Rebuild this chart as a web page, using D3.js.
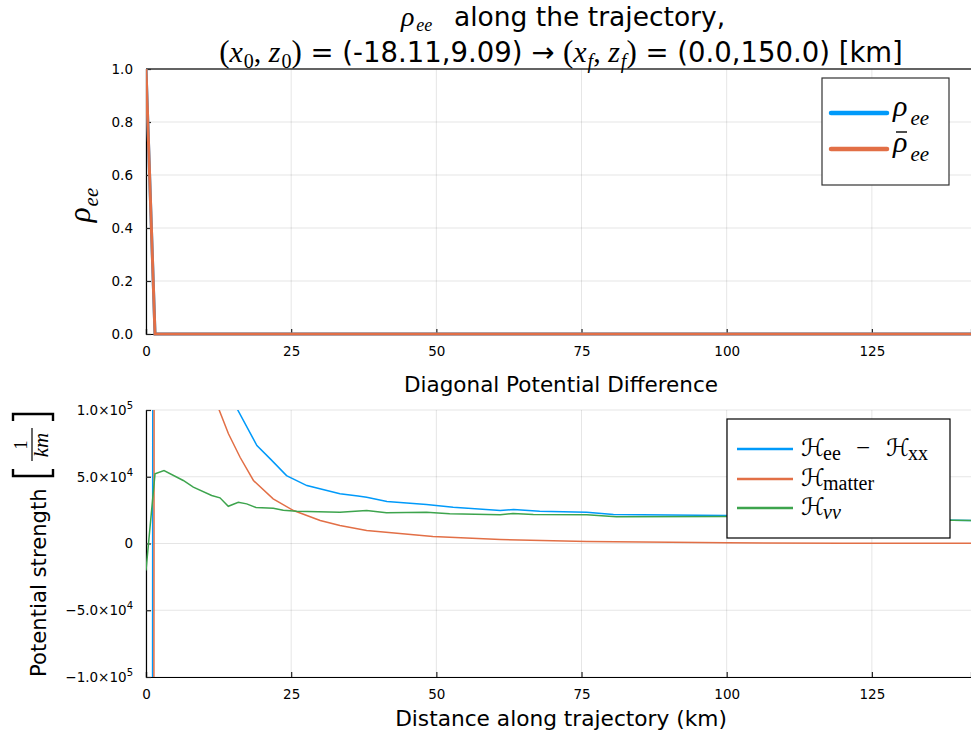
<!DOCTYPE html>
<html><head><meta charset="utf-8">
<script src="https://cdn.jsdelivr.net/npm/d3@7"></script>
<style>body{margin:0;background:#fff}svg{display:block}</style>
</head><body>
<svg id="chart" width="971" height="737"></svg>
<script>
// ---------------- data ----------------
const distMax = 142.07;
const xTicks = [0, 25, 50, 75, 100, 125];
const topYTicks = [0, 0.2, 0.4, 0.6, 0.8, 1.0];
const botYTicks = [-1e5, -5e4, 0, 5e4, 1e5];

const rhoX = [0, 1.55, 50, 100, 142.07];
const rhoEE = [1.0, 0.0, 0.0, 0.0, 0.0];
const rhoBarEE = [1.0, 0.0, 0.0, 0.0, 0.0];

const hDiffX = [0, 1.55, 3.1, 6.4, 9.5, 12.6, 15.8, 19.1, 21.4, 24.2, 27.7, 33.4, 36.5, 38.0, 41.5, 48.3, 52.9, 61.0, 63.3, 67.8, 75.9, 80.5, 100, 110, 120, 130, 142.07];
const hDiffY = [-7.4e6, 2.6e6, 9e5, 4e5, 2.2e5, 1.45e5, 1.0e5, 7.34e4, 6.34e4, 5.09e4, 4.34e4, 3.72e4, 3.55e4, 3.47e4, 3.15e4, 2.92e4, 2.72e4, 2.47e4, 2.55e4, 2.42e4, 2.34e4, 2.17e4, 2.10e4, 2.0e4, 1.9e4, 1.8e4, 1.72e4];

const hMatterX = [0, 1.55, 3.1, 6.4, 9.5, 12.6, 14.2, 16.2, 18.5, 21.9, 25.4, 30, 33.4, 38, 49.4, 61, 75.9, 100, 120, 142.07];
const hMatterY = [-8.9e6, 1.1e6, 7e5, 3e5, 1.6e5, 1.0e5, 8.22e4, 6.46e4, 4.72e4, 3.35e4, 2.47e4, 1.72e4, 1.35e4, 9.7e3, 5.2e3, 3.0e3, 1.5e3, 5e2, 2e2, 1e2];

const hNuX = [0, 1.55, 3.1, 6.42, 8.15, 11.31, 12.74, 14.17, 15.9, 17.34, 18.94, 21.92, 23.64, 25.95, 33.4, 38.0, 41.4, 48.3, 52.3, 61, 63.2, 66.7, 75.9, 81, 100, 120, 142.07];
const hNuY = [-2.02e4, 5.22e4, 5.47e4, 4.72e4, 4.22e4, 3.60e4, 3.42e4, 2.79e4, 3.09e4, 2.97e4, 2.70e4, 2.64e4, 2.49e4, 2.42e4, 2.34e4, 2.47e4, 2.30e4, 2.34e4, 2.22e4, 2.15e4, 2.25e4, 2.17e4, 2.15e4, 2.0e4, 2.02e4, 1.85e4, 1.72e4];

const C_BLUE = "#009AFA", C_ORANGE = "#E26F46", C_GREEN = "#3DA44D";
const SANS = "DejaVu Sans, sans-serif";
const SERIF = "Liberation Serif, DejaVu Serif, serif";
const CAL = "DejaVu Sans, sans-serif";

// ---------------- setup ----------------
const svg = d3.select("#chart");
const L = 146, R = 971;
const x = d3.scaleLinear([0, distMax], [L, R]);
const yTop = d3.scaleLinear([0, 1], [334, 69]);
const yBot = d3.scaleLinear([-1e5, 1e5], [677, 410]);
const zip = (a, b) => a.map((v, i) => [v, b[i]]);

const defs = svg.append("defs");
defs.append("clipPath").attr("id", "clipTop").append("rect").attr("x", L).attr("y", 66).attr("width", R - L).attr("height", 270);
defs.append("clipPath").attr("id", "clipBot").append("rect").attr("x", L).attr("y", 410).attr("width", R - L).attr("height", 267);

function panel(y, yTicks, fmt) {
  const g = svg.append("g");
  const [y0, y1] = y.range();
  g.selectAll(".vg").data(xTicks).join("line")
    .attr("x1", d => x(d)).attr("x2", d => x(d)).attr("y1", y1).attr("y2", y0)
    .attr("stroke", "#000").attr("stroke-opacity", 0.1).attr("stroke-width", 1);
  g.selectAll(".hg").data(yTicks).join("line")
    .attr("x1", L).attr("x2", R).attr("y1", d => y(d)).attr("y2", d => y(d))
    .attr("stroke", "#000").attr("stroke-opacity", 0.1).attr("stroke-width", 1);
  const xa = d3.axisBottom(x).tickValues(xTicks).tickSize(-5).tickPadding(12).tickFormat(d3.format("d"));
  const ax = svg.append("g").attr("transform", `translate(0,${y0})`).call(xa);
  ax.select(".domain").attr("stroke", "#000").attr("stroke-width", 1.2);
  ax.selectAll(".tick line").attr("stroke", "#222").attr("stroke-width", 1.2);
  ax.selectAll("text").attr("font-family", SANS).attr("font-size", 13.5).attr("fill", "#000");
  const ya = d3.axisLeft(y).tickValues(yTicks).tickSize(-5).tickPadding(13).tickFormat(fmt);
  const ay = svg.append("g").attr("transform", `translate(${L},0)`).call(ya);
  ay.select(".domain").attr("stroke", "#000").attr("stroke-width", 1.2);
  ay.selectAll(".tick line").attr("stroke", "#222").attr("stroke-width", 1.2);
  ay.selectAll("text").attr("font-family", SANS).attr("font-size", 13.5).attr("fill", "#000");
  return ay;
}

// ---------------- top panel ----------------
panel(yTop, topYTicks, d3.format(".1f"));
svg.append("line").attr("x1", L).attr("x2", R).attr("y1", 69).attr("y2", 69).attr("stroke", "#333").attr("stroke-width", 1.5);

const lineTop = d3.line().x(d => x(d[0])).y(d => yTop(d[1]));
const gt = svg.append("g").attr("clip-path", "url(#clipTop)");
gt.append("path").attr("d", lineTop(zip(rhoX, rhoEE))).attr("fill", "none").attr("stroke", C_BLUE).attr("stroke-width", 3);
gt.append("path").attr("d", lineTop(zip(rhoX, rhoBarEE))).attr("fill", "none").attr("stroke", C_ORANGE).attr("stroke-width", 3);

// ---------------- bottom panel ----------------
const ayB = panel(yBot, botYTicks, d => "");
ayB.selectAll(".tick text").each(function(d) {
  const t = d3.select(this);
  if (d === 0) { t.text("0"); return; }
  const e = Math.floor(Math.log10(Math.abs(d)));
  const m = d / Math.pow(10, e);
  t.text((m < 0 ? "\u2212" : "") + Math.abs(m).toFixed(1) + "\u00d710");
  t.append("tspan").attr("dy", -6).attr("font-size", 10).text(e);
});

const lineBot = d3.line().x(d => x(d[0])).y(d => yBot(d[1]));
const gb = svg.append("g").attr("clip-path", "url(#clipBot)");
gb.append("path").attr("d", lineBot(zip(hDiffX, hDiffY))).attr("fill", "none").attr("stroke", C_BLUE).attr("stroke-width", 1.5);
gb.append("path").attr("d", lineBot(zip(hMatterX, hMatterY))).attr("fill", "none").attr("stroke", C_ORANGE).attr("stroke-width", 1.5);
gb.append("path").attr("d", lineBot(zip(hNuX, hNuY))).attr("fill", "none").attr("stroke", C_GREEN).attr("stroke-width", 1.5);

// ---------------- titles ----------------
const t1 = svg.append("text").attr("x", 563).attr("y", 26).attr("text-anchor", "middle").attr("font-family", SANS).attr("font-size", 26.5);
t1.append("tspan").attr("font-family", SERIF).attr("font-style", "italic").attr("font-size", 28).text("ρ");
t1.append("tspan").attr("font-family", SERIF).attr("font-style", "italic").attr("font-size", 18).attr("dx", 2).attr("dy", 5).text("ee");
t1.append("tspan").attr("dy", -5).text("\u2002 along the trajectory,");

const t2 = svg.append("text").attr("x", 561).attr("y", 62).attr("text-anchor", "middle").attr("font-family", SANS).attr("font-size", 27.5);
function mathPair(t, a, b, sub) {
  const st = sub === "0" ? "normal" : "italic";
  t.append("tspan").attr("font-family", SERIF).attr("font-size", 31).text("(");
  t.append("tspan").attr("font-family", SERIF).attr("font-style", "italic").attr("font-size", 30).text(a);
  t.append("tspan").attr("font-family", SERIF).attr("font-style", st).attr("font-size", 20).attr("dx", 1).attr("dy", 6).text(sub);
  t.append("tspan").attr("font-family", SERIF).attr("font-size", 30).attr("dy", -6).text(", ");
  t.append("tspan").attr("font-family", SERIF).attr("font-style", "italic").attr("font-size", 30).text(b);
  t.append("tspan").attr("font-family", SERIF).attr("font-style", st).attr("font-size", 20).attr("dx", 1).attr("dy", 6).text(sub);
  t.append("tspan").attr("font-family", SERIF).attr("font-size", 31).attr("dy", -6).text(")");
}
mathPair(t2, "x", "z", "0");
t2.append("tspan").text(" = (-18.11,9.09) \u2192 ");
mathPair(t2, "x", "z", "f");
t2.append("tspan").text(" = (0.0,150.0) [km]");

// top y label
const yl = svg.append("text").attr("transform", "translate(90,205) rotate(-90)").attr("text-anchor", "middle").attr("font-family", SERIF).attr("font-style", "italic");
yl.append("tspan").attr("font-size", 31).text("ρ");
yl.append("tspan").attr("font-size", 21).attr("dx", 1).attr("dy", 8).text("ee");

// bottom panel title
svg.append("text").attr("x", 561).attr("y", 392).attr("text-anchor", "middle").attr("font-family", SANS).attr("font-size", 21.5).text("Diagonal Potential Difference");

// x label
svg.append("text").attr("x", 561).attr("y", 726).attr("text-anchor", "middle").attr("font-family", SANS).attr("font-size", 21.7).text("Distance along trajectory (km)");

// bottom y label
const gy = svg.append("g").attr("transform", "translate(46,677) rotate(-90)");
gy.append("text").attr("x", 0).attr("y", 0).attr("font-family", SANS).attr("font-size", 21.2).text("Potential strength");
gy.append("path").attr("d", "M208,-33 L201,-33 L201,7 L208,7").attr("fill", "none").attr("stroke", "#000").attr("stroke-width", 2.4);
gy.append("path").attr("d", "M256,-33 L263,-33 L263,7 L256,7").attr("fill", "none").attr("stroke", "#000").attr("stroke-width", 2.4);
gy.append("text").attr("x", 232).attr("y", -19).attr("text-anchor", "middle").attr("font-family", SERIF).attr("font-size", 18).text("1");
gy.append("line").attr("x1", 216).attr("x2", 249).attr("y1", -14).attr("y2", -14).attr("stroke", "#000").attr("stroke-width", 1.2);
gy.append("text").attr("x", 232).attr("y", 2).attr("text-anchor", "middle").attr("font-family", SERIF).attr("font-style", "italic").attr("font-size", 21).text("km");

// ---------------- legends ----------------
const lg1 = svg.append("g");
lg1.append("rect").attr("x", 822).attr("y", 78).attr("width", 127).attr("height", 107).attr("fill", "#fff").attr("stroke", "#333").attr("stroke-width", 1.2);
[[C_BLUE, 113, false], [C_ORANGE, 149, true]].forEach(([c, yy, bar]) => {
  lg1.append("line").attr("x1", 831).attr("x2", 887).attr("y1", yy).attr("y2", yy).attr("stroke", c).attr("stroke-width", 4.5).attr("stroke-linecap", "round");
  const t = lg1.append("text").attr("x", 893).attr("y", yy + 3).attr("font-family", SERIF).attr("font-style", "italic");
  t.append("tspan").attr("font-size", 30).text("ρ");
  t.append("tspan").attr("font-size", 21).attr("dx", 3).attr("dy", 9).text("ee");
  if (bar) lg1.append("line").attr("x1", 896).attr("x2", 907).attr("y1", yy - 17).attr("y2", yy - 17).attr("stroke", "#000").attr("stroke-width", 1.4);
});

const lg2 = svg.append("g");
lg2.append("rect").attr("x", 727).attr("y", 419).attr("width", 223).attr("height", 119).attr("fill", "#fff").attr("stroke", "#000").attr("stroke-width", 1.2);
// [text, kind, x]: kind 0 = calligraphic H, 1 = upright subscript, 2 = operator, 3 = italic subscript
const legRows = [
  [C_BLUE, 449, [["ℋ", 0, 801], ["ee", 1, 823], ["\u2212", 2, 856], ["ℋ", 0, 886], ["xx", 1, 908]]],
  [C_ORANGE, 479, [["ℋ", 0, 801], ["matter", 1, 823]]],
  [C_GREEN, 508, [["ℋ", 0, 801], ["νν", 3, 823]]]
];
legRows.forEach(([c, yy, parts]) => {
  lg2.append("line").attr("x1", 737).attr("x2", 793).attr("y1", yy).attr("y2", yy).attr("stroke", c).attr("stroke-width", 2.5);
  parts.forEach(([s, k, px]) => {
    const t = lg2.append("text").attr("x", px).attr("font-family", SERIF).text(s);
    if (k === 0) t.attr("y", yy + 7).attr("font-size", 24).attr("font-family", CAL);
    else if (k === 1 || k === 3) t.attr("y", yy + 11).attr("font-size", 20).attr("font-style", k === 3 ? "italic" : "normal");
    else t.attr("y", yy + 7).attr("font-size", 25);
  });
});
</script>
</body></html>
